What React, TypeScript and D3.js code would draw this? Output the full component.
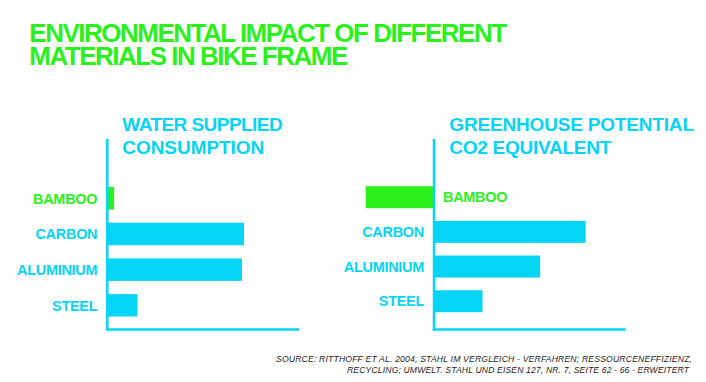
import React from "react";
import * as d3 from "d3";

const GREEN = "#2cf01c";
const CYAN = "#06d4f4";

const titleLines = ["ENVIRONMENTAL IMPACT OF DIFFERENT", "MATERIALS IN BIKE FRAME"];
const categories = ["BAMBOO", "CARBON", "ALUMINIUM", "STEEL"];
const waterTitle = ["WATER SUPPLIED", "CONSUMPTION"];
const waterValues = [5, 100, 98.5, 22];
const co2Title = ["GREENHOUSE POTENTIAL", "CO2 EQUIVALENT"];
const co2Values = [-45, 100, 70, 32];
const sourceLines = [
  "SOURCE: RITTHOFF ET AL. 2004, STAHL IM VERGLEICH - VERFAHREN; RESSOURCENEFFIZIENZ,",
  "RECYCLING; UMWELT. STAHL UND EISEN 127, NR. 7, SEITE 62 - 66 - ERWEITERT",
];

const FONT = "'Liberation Sans', Arial, Helvetica, sans-serif";

type PanelProps = {
  title: string[];
  values: number[];
  axisX: number;
  axisEnd: number;
  fullX: number;
  yRange: [number, number];
  barH: number;
  titleX: number;
  titleW: number[];
};

function Panel({ title, values, axisX, axisEnd, fullX, yRange, barH, titleX, titleW }: PanelProps) {
  const x = d3.scaleLinear().domain([0, 100]).range([axisX, fullX]);
  const y = d3.scalePoint<string>().domain(categories).range(yRange);
  return (
    <g>
      <text fontSize={19} fontWeight="bold" fill={CYAN} fontFamily={FONT}>
        {title.map((t, i) => (
          <tspan key={t} x={titleX} y={130.7 + i * 23.6} textLength={titleW[i]}>
            {t}
          </tspan>
        ))}
      </text>
      {categories.map((c, i) => {
        const v = values[i];
        const x0 = Math.min(x(0), x(v));
        const w = Math.abs(x(v) - x(0));
        const isBamboo = c === "BAMBOO";
        const neg = v < 0;
        return (
          <g key={c}>
            <rect
              x={x0}
              y={(y(c) as number) - barH / 2}
              width={w}
              height={barH}
              fill={isBamboo ? GREEN : CYAN}
            />
            <text
              x={neg ? x(0) + 9 : x(0) - 10}
              y={(y(c) as number) + 5.2}
              textAnchor={neg ? "start" : "end"}
              fontSize={14.5}
              fontWeight="bold"
              letterSpacing={-0.3}
              fill={isBamboo ? GREEN : CYAN}
              fontFamily={FONT}
            >
              {c}
            </text>
          </g>
        );
      })}
      <line x1={axisX} x2={axisX} y1={139} y2={330.7} stroke={CYAN} strokeWidth={2.5} />
      <line x1={axisX - 1.25} x2={axisEnd} y1={329.5} y2={329.5} stroke={CYAN} strokeWidth={2.5} />
    </g>
  );
}

export default function App() {
  return (
    <svg width={706} height={382} style={{ position: "absolute", left: 0, top: 0, background: "#fff" }}>
      <rect width={706} height={382} fill="#fff" />
      <text fontSize={26} fontWeight="bold" letterSpacing={-1.5} fill={GREEN} fontFamily={FONT}>
        {titleLines.map((t, i) => (
          <tspan key={t} x={29.3} y={41.7 + i * 23.3}>
            {t}
          </tspan>
        ))}
      </text>
      <Panel
        title={waterTitle}
        values={waterValues}
        axisX={107.3}
        axisEnd={299}
        fullX={244}
        yRange={[198.3, 305.3]}
        barH={22.5}
        titleX={122.3}
        titleW={[160.4, 142]}
      />
      <Panel
        title={co2Title}
        values={co2Values}
        axisX={434}
        axisEnd={625.7}
        fullX={585.7}
        yRange={[197.2, 301.2]}
        barH={22}
        titleX={449.3}
        titleW={[244.7, 162]}
      />
      <text fontSize={8.6} fontStyle="italic" fill="#222" fontFamily={FONT}>
        {sourceLines.map((t, i) => (
          <tspan key={t} x={i === 0 ? 276 : 347} y={361.7 + i * 11} textLength={i === 0 ? 416 : 342}>
            {t}
          </tspan>
        ))}
      </text>
    </svg>
  );
}
